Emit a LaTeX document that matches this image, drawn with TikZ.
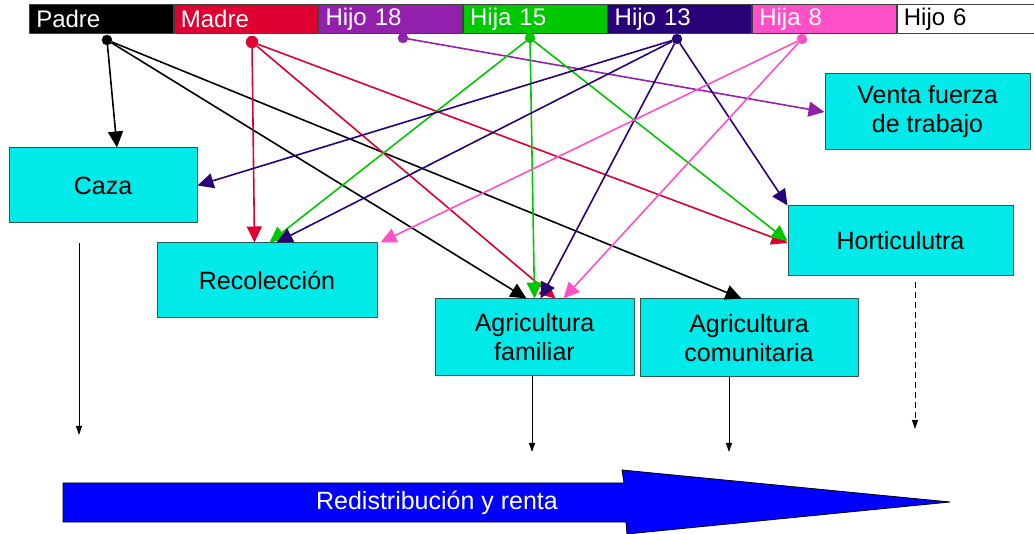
\documentclass[tikz,border=0pt]{standalone}
\usepackage{fontspec}
\setmainfont{Liberation Sans}
\usepackage{xcolor}
\usepackage{tikz}
\usetikzlibrary{arrows.meta, positioning}

\definecolor{padrec}{RGB}{0,0,0}
\definecolor{madrec}{RGB}{222,0,48}
\definecolor{hijoac}{RGB}{146,32,172}
\definecolor{hijabc}{RGB}{0,200,0}
\definecolor{hijocc}{RGB}{40,0,120}
\definecolor{hijadc}{RGB}{255,80,200}
\definecolor{cajac}{RGB}{0,234,234}
\definecolor{bordec}{RGB}{40,88,88}

\tikzset{
  miembro/.style={draw=black!75, line width=0.6pt, minimum height=29pt, text width=130pt,
    inner xsep=7pt, inner ysep=0pt, align=left, text=white, font=\fontsize{24}{26}\selectfont},
  punto/.style={circle, fill=#1, draw=#1, minimum size=10pt, inner sep=0pt},
  caja/.style={draw=bordec, line width=1pt, fill=cajac, align=center, font=\fontsize{25}{29}\selectfont},
  bajada/.style={line width=1pt, -{Triangle[length=9pt,width=6pt]}},
}

\begin{document}
\begin{tikzpicture}[x=1pt, y=-1pt, line join=round, >={Triangle[length=16pt,width=15pt]}]
        \useasboundingbox (0,0) rectangle (1034,534);

        \node[miembro, fill=padrec, anchor=west] (padre) at (29,19) {Padre};
        \node[miembro, fill=madrec] (madre) [right=0pt of padre] {Madre};
        \node[miembro, fill=hijoac] (hijoa) [right=0pt of madre] {Hijo 18};
        \node[miembro, fill=hijabc] (hijab) [right=0pt of hijoa] {Hija 15};
        \node[miembro, fill=hijocc] (hijoc) [right=0pt of hijab] {Hijo 13};
        \node[miembro, fill=hijadc] (hijad) [right=0pt of hijoc] {Hija 8};
        \node[miembro, fill=white, text=black] (hijoe) [right=0pt of hijad] {Hijo 6};

        \node[caja, minimum width=188pt, minimum height=75pt] (caza) at (103,185.5) {Caza};
        \node[caja, minimum width=220pt, minimum height=75pt] (recol) at (267,280.5) {Recolección};
        \node[caja, minimum width=205pt, minimum height=76pt] (venta) at (927.5,112) {Venta fuerza\\de trabajo};
        \node[caja, minimum width=225pt, minimum height=70pt] (horti) at (900.5,241) {Horticulutra};
        \node[caja, minimum width=199pt, minimum height=77pt] (agfam) at (534.5,337.5) {Agricultura\\familiar};
        \node[caja, minimum width=218pt, minimum height=78pt] (agcom) at (749,338) {Agricultura\\comunitaria};

        \node[punto=padrec] (dpadre) at (107,40) {};
        \node[punto=madrec, minimum size=12pt] (dmadre) at (252,42) {};
        \node[punto=hijoac] (dhijoa) at (403,38) {};
        \node[punto=hijabc] (dhijab) at (530,38) {};
        \node[punto=hijocc] (dhijoc) at (677,39) {};
        \node[punto=hijadc] (dhijad) at (802,39) {};

        \path[->, line width=1.6pt]
        (dpadre) edge [padrec] ([xshift=14pt]caza.north)
        (dpadre) edge [padrec] ([xshift=92pt]agfam.north west)
        (dpadre) edge [padrec] ([xshift=102pt]agcom.north west)

        (dmadre) edge [madrec] ([xshift=98pt]recol.north west)
        (dmadre) edge [madrec] ([xshift=121pt]agfam.north west)
        (dmadre) edge [madrec] ([yshift=-2pt]horti.west)

        (dhijoa) edge [hijoac] (venta.west)

        (dhijab) edge [hijabc] ([xshift=113pt]recol.north west)
        (dhijab) edge [hijabc] ([xshift=100pt]agfam.north west)
        (dhijab) edge [hijabc] (horti.west)

        (dhijoc) edge [hijocc] (caza.east)
        (dhijoc) edge [hijocc] ([xshift=120pt]recol.north west)
        (dhijoc) edge [hijocc] ([xshift=106pt]agfam.north west)
        (dhijoc) edge [hijocc] (horti.north west)

        (dhijad) edge [hijadc] ([xshift=3pt]recol.north east)
        (dhijad) edge [hijadc] ([xshift=129pt]agfam.north west);

        \coordinate (cazaini) at (79,243);
        \coordinate (cazafin) at (79,435);
        \coordinate (agfamfin) at (532,452);
        \coordinate (agcomfin) at (729,452);
        \coordinate (hortiini) at (915,282);
        \coordinate (hortifin) at (915,429);

        \draw[bajada] (cazaini) -- (cazafin);
        \draw[bajada] (agfam.south -| agfamfin) -- (agfamfin);
        \draw[bajada] (agcom.south -| agcomfin) -- (agcomfin);
        \draw[bajada, dash pattern=on 6pt off 4pt] (hortiini) -- (hortifin);

        % redistribucion
        \draw[fill=blue, line width=0.8pt] (63,483) -- (624,483) -- (622,470) -- (950,502)
          -- (627,534) -- (626,522) -- (63,522) -- cycle;
        \node[text=white, font=\fontsize{25}{29}\selectfont] (redis) at (437,503) {Redistribución y renta};

    \end{tikzpicture}
\end{document}
